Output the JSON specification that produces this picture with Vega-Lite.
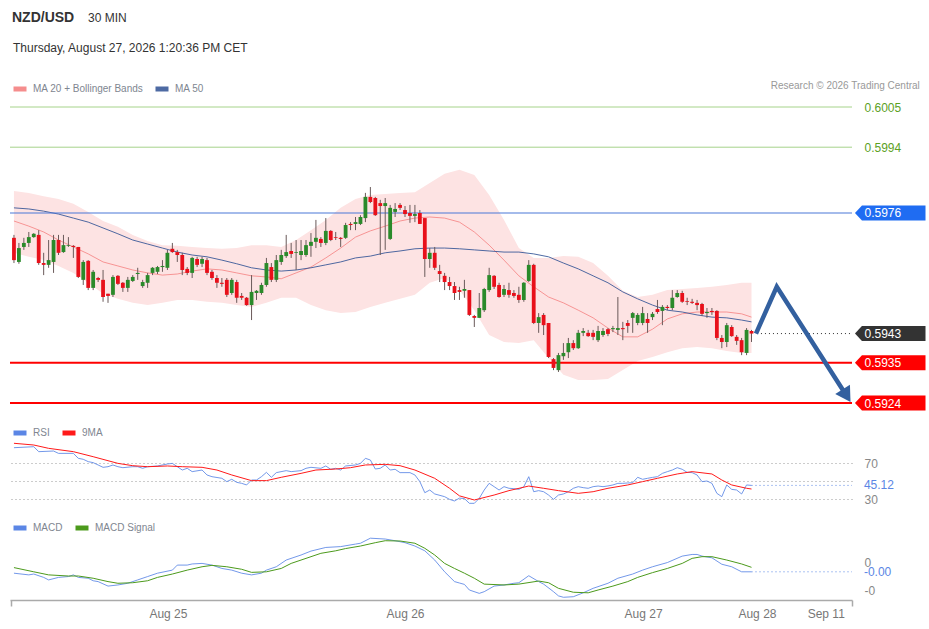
{
  "$schema": "https://vega.github.io/schema/vega-lite/v6.json",
  "width": 842,
  "height": 505,
  "autosize": {"type": "none"},
  "padding": {"left": 10, "top": 95, "right": 77, "bottom": 29},
  "background": "white",
  "config": {"view": {"stroke": null}, "font": "Liberation Sans"},
  "datasets": {
    "bars": [
      {"i":0,"open":0.59692,"high":0.59700,"low":0.59623,"close":0.59631},
      {"i":1,"open":0.59626,"high":0.59678,"low":0.59621,"close":0.59664},
      {"i":2,"open":0.59667,"high":0.59692,"low":0.59659,"close":0.59678},
      {"i":3,"open":0.59678,"high":0.59708,"low":0.59667,"close":0.59694},
      {"i":4,"open":0.59694,"high":0.59705,"low":0.59692,"close":0.59703},
      {"i":5,"open":0.59700,"high":0.59713,"low":0.59618,"close":0.59623},
      {"i":6,"open":0.59623,"high":0.59651,"low":0.59590,"close":0.59618},
      {"i":7,"open":0.59618,"high":0.59686,"low":0.59610,"close":0.59631},
      {"i":8,"open":0.59626,"high":0.59700,"low":0.59596,"close":0.59686},
      {"i":9,"open":0.59686,"high":0.59700,"low":0.59645,"close":0.59651},
      {"i":10,"open":0.59653,"high":0.59700,"low":0.59651,"close":0.59672},
      {"i":11,"open":0.59670,"high":0.59694,"low":0.59667,"close":0.59672},
      {"i":12,"open":0.59670,"high":0.59672,"low":0.59637,"close":0.59667},
      {"i":13,"open":0.59667,"high":0.59667,"low":0.59582,"close":0.59585},
      {"i":14,"open":0.59577,"high":0.59631,"low":0.59563,"close":0.59626},
      {"i":15,"open":0.59629,"high":0.59631,"low":0.59549,"close":0.59555},
      {"i":16,"open":0.59555,"high":0.59604,"low":0.59549,"close":0.59599},
      {"i":17,"open":0.59582,"high":0.59585,"low":0.59571,"close":0.59577},
      {"i":18,"open":0.59577,"high":0.59604,"low":0.59517,"close":0.59530},
      {"i":19,"open":0.59539,"high":0.59539,"low":0.59514,"close":0.59533},
      {"i":20,"open":0.59536,"high":0.59590,"low":0.59530,"close":0.59585},
      {"i":21,"open":0.59588,"high":0.59590,"low":0.59563,"close":0.59566},
      {"i":22,"open":0.59569,"high":0.59571,"low":0.59544,"close":0.59555},
      {"i":23,"open":0.59555,"high":0.59585,"low":0.59544,"close":0.59577},
      {"i":24,"open":0.59574,"high":0.59590,"low":0.59571,"close":0.59585},
      {"i":25,"open":0.59593,"high":0.59610,"low":0.59577,"close":0.59596},
      {"i":26,"open":0.59560,"high":0.59577,"low":0.59555,"close":0.59571},
      {"i":27,"open":0.59569,"high":0.59596,"low":0.59555,"close":0.59590},
      {"i":28,"open":0.59596,"high":0.59612,"low":0.59590,"close":0.59610},
      {"i":29,"open":0.59599,"high":0.59615,"low":0.59593,"close":0.59612},
      {"i":30,"open":0.59612,"high":0.59631,"low":0.59599,"close":0.59615},
      {"i":31,"open":0.59610,"high":0.59659,"low":0.59604,"close":0.59651},
      {"i":32,"open":0.59662,"high":0.59678,"low":0.59651,"close":0.59653},
      {"i":33,"open":0.59653,"high":0.59659,"low":0.59626,"close":0.59645},
      {"i":34,"open":0.59645,"high":0.59651,"low":0.59590,"close":0.59604},
      {"i":35,"open":0.59607,"high":0.59612,"low":0.59590,"close":0.59596},
      {"i":36,"open":0.59596,"high":0.59640,"low":0.59582,"close":0.59637},
      {"i":37,"open":0.59634,"high":0.59640,"low":0.59612,"close":0.59618},
      {"i":38,"open":0.59621,"high":0.59640,"low":0.59612,"close":0.59634},
      {"i":39,"open":0.59631,"high":0.59637,"low":0.59590,"close":0.59596},
      {"i":40,"open":0.59599,"high":0.59604,"low":0.59577,"close":0.59582},
      {"i":41,"open":0.59582,"high":0.59590,"low":0.59555,"close":0.59569},
      {"i":42,"open":0.59569,"high":0.59582,"low":0.59558,"close":0.59566},
      {"i":43,"open":0.59577,"high":0.59582,"low":0.59530,"close":0.59536},
      {"i":44,"open":0.59541,"high":0.59582,"low":0.59536,"close":0.59577},
      {"i":45,"open":0.59571,"high":0.59577,"low":0.59514,"close":0.59528},
      {"i":46,"open":0.59533,"high":0.59541,"low":0.59522,"close":0.59528},
      {"i":47,"open":0.59528,"high":0.59530,"low":0.59506,"close":0.59508},
      {"i":48,"open":0.59508,"high":0.59590,"low":0.59467,"close":0.59544},
      {"i":49,"open":0.59541,"high":0.59549,"low":0.59522,"close":0.59547},
      {"i":50,"open":0.59541,"high":0.59569,"low":0.59536,"close":0.59563},
      {"i":51,"open":0.59563,"high":0.59637,"low":0.59558,"close":0.59623},
      {"i":52,"open":0.59612,"high":0.59623,"low":0.59571,"close":0.59577},
      {"i":53,"open":0.59577,"high":0.59645,"low":0.59571,"close":0.59631},
      {"i":54,"open":0.59626,"high":0.59659,"low":0.59618,"close":0.59645},
      {"i":55,"open":0.59642,"high":0.59700,"low":0.59637,"close":0.59653},
      {"i":56,"open":0.59656,"high":0.59678,"low":0.59637,"close":0.59648},
      {"i":57,"open":0.59651,"high":0.59686,"low":0.59604,"close":0.59653},
      {"i":58,"open":0.59645,"high":0.59686,"low":0.59631,"close":0.59656},
      {"i":59,"open":0.59645,"high":0.59686,"low":0.59640,"close":0.59672},
      {"i":60,"open":0.59670,"high":0.59705,"low":0.59640,"close":0.59681},
      {"i":61,"open":0.59681,"high":0.59741,"low":0.59664,"close":0.59692},
      {"i":62,"open":0.59689,"high":0.59694,"low":0.59667,"close":0.59678},
      {"i":63,"open":0.59678,"high":0.59746,"low":0.59672,"close":0.59711},
      {"i":64,"open":0.59711,"high":0.59713,"low":0.59683,"close":0.59686},
      {"i":65,"open":0.59694,"high":0.59708,"low":0.59686,"close":0.59692},
      {"i":66,"open":0.59692,"high":0.59694,"low":0.59667,"close":0.59689},
      {"i":67,"open":0.59692,"high":0.59733,"low":0.59689,"close":0.59727},
      {"i":68,"open":0.59730,"high":0.59735,"low":0.59713,"close":0.59727},
      {"i":69,"open":0.59730,"high":0.59749,"low":0.59713,"close":0.59735},
      {"i":70,"open":0.59730,"high":0.59754,"low":0.59727,"close":0.59749},
      {"i":71,"open":0.59746,"high":0.59815,"low":0.59735,"close":0.59804},
      {"i":72,"open":0.59804,"high":0.59831,"low":0.59787,"close":0.59790},
      {"i":73,"open":0.59801,"high":0.59804,"low":0.59752,"close":0.59754},
      {"i":74,"open":0.59787,"high":0.59796,"low":0.59645,"close":0.59779},
      {"i":75,"open":0.59779,"high":0.59801,"low":0.59659,"close":0.59787},
      {"i":76,"open":0.59689,"high":0.59782,"low":0.59686,"close":0.59774},
      {"i":77,"open":0.59763,"high":0.59787,"low":0.59749,"close":0.59771},
      {"i":78,"open":0.59782,"high":0.59787,"low":0.59768,"close":0.59774},
      {"i":79,"open":0.59768,"high":0.59779,"low":0.59749,"close":0.59757},
      {"i":80,"open":0.59760,"high":0.59782,"low":0.59733,"close":0.59752},
      {"i":81,"open":0.59752,"high":0.59782,"low":0.59735,"close":0.59757},
      {"i":82,"open":0.59760,"high":0.59768,"low":0.59730,"close":0.59730},
      {"i":83,"open":0.59746,"high":0.59746,"low":0.59585,"close":0.59634},
      {"i":84,"open":0.59634,"high":0.59664,"low":0.59610,"close":0.59651},
      {"i":85,"open":0.59651,"high":0.59667,"low":0.59604,"close":0.59610},
      {"i":86,"open":0.59601,"high":0.59618,"low":0.59571,"close":0.59593},
      {"i":87,"open":0.59588,"high":0.59596,"low":0.59549,"close":0.59571},
      {"i":88,"open":0.59571,"high":0.59585,"low":0.59549,"close":0.59560},
      {"i":89,"open":0.59560,"high":0.59571,"low":0.59522,"close":0.59541},
      {"i":90,"open":0.59549,"high":0.59558,"low":0.59522,"close":0.59544},
      {"i":91,"open":0.59547,"high":0.59577,"low":0.59528,"close":0.59552},
      {"i":92,"open":0.59549,"high":0.59549,"low":0.59478,"close":0.59481},
      {"i":93,"open":0.59478,"high":0.59481,"low":0.59448,"close":0.59473},
      {"i":94,"open":0.59473,"high":0.59541,"low":0.59473,"close":0.59500},
      {"i":95,"open":0.59494,"high":0.59555,"low":0.59489,"close":0.59552},
      {"i":96,"open":0.59549,"high":0.59610,"low":0.59544,"close":0.59590},
      {"i":97,"open":0.59588,"high":0.59590,"low":0.59552,"close":0.59558},
      {"i":98,"open":0.59563,"high":0.59569,"low":0.59528,"close":0.59530},
      {"i":99,"open":0.59536,"high":0.59563,"low":0.59530,"close":0.59552},
      {"i":100,"open":0.59549,"high":0.59569,"low":0.59528,"close":0.59536},
      {"i":101,"open":0.59541,"high":0.59549,"low":0.59528,"close":0.59533},
      {"i":102,"open":0.59536,"high":0.59558,"low":0.59514,"close":0.59522},
      {"i":103,"open":0.59522,"high":0.59571,"low":0.59517,"close":0.59569},
      {"i":104,"open":0.59574,"high":0.59631,"low":0.59571,"close":0.59618},
      {"i":105,"open":0.59618,"high":0.59621,"low":0.59456,"close":0.59459},
      {"i":106,"open":0.59459,"high":0.59486,"low":0.59432,"close":0.59475},
      {"i":107,"open":0.59481,"high":0.59486,"low":0.59426,"close":0.59453},
      {"i":108,"open":0.59459,"high":0.59459,"low":0.59363,"close":0.59366},
      {"i":109,"open":0.59360,"high":0.59363,"low":0.59330,"close":0.59336},
      {"i":110,"open":0.59330,"high":0.59377,"low":0.59325,"close":0.59371},
      {"i":111,"open":0.59368,"high":0.59404,"low":0.59358,"close":0.59377},
      {"i":112,"open":0.59379,"high":0.59418,"low":0.59363,"close":0.59404},
      {"i":113,"open":0.59404,"high":0.59412,"low":0.59385,"close":0.59390},
      {"i":114,"open":0.59390,"high":0.59440,"low":0.59388,"close":0.59432},
      {"i":115,"open":0.59432,"high":0.59445,"low":0.59423,"close":0.59437},
      {"i":116,"open":0.59432,"high":0.59440,"low":0.59421,"close":0.59423},
      {"i":117,"open":0.59432,"high":0.59440,"low":0.59412,"close":0.59421},
      {"i":118,"open":0.59412,"high":0.59451,"low":0.59407,"close":0.59437},
      {"i":119,"open":0.59426,"high":0.59445,"low":0.59421,"close":0.59437},
      {"i":120,"open":0.59442,"high":0.59445,"low":0.59423,"close":0.59429},
      {"i":121,"open":0.59442,"high":0.59451,"low":0.59434,"close":0.59445},
      {"i":122,"open":0.59440,"high":0.59530,"low":0.59426,"close":0.59445},
      {"i":123,"open":0.59445,"high":0.59462,"low":0.59412,"close":0.59442},
      {"i":124,"open":0.59459,"high":0.59467,"low":0.59432,"close":0.59451},
      {"i":125,"open":0.59473,"high":0.59489,"low":0.59432,"close":0.59486},
      {"i":126,"open":0.59459,"high":0.59486,"low":0.59453,"close":0.59481},
      {"i":127,"open":0.59459,"high":0.59503,"low":0.59453,"close":0.59486},
      {"i":128,"open":0.59470,"high":0.59486,"low":0.59432,"close":0.59459},
      {"i":129,"open":0.59475,"high":0.59489,"low":0.59467,"close":0.59484},
      {"i":130,"open":0.59497,"high":0.59522,"low":0.59484,"close":0.59489},
      {"i":131,"open":0.59492,"high":0.59508,"low":0.59453,"close":0.59503},
      {"i":132,"open":0.59503,"high":0.59508,"low":0.59494,"close":0.59500},
      {"i":133,"open":0.59500,"high":0.59549,"low":0.59494,"close":0.59528},
      {"i":134,"open":0.59530,"high":0.59549,"low":0.59528,"close":0.59541},
      {"i":135,"open":0.59541,"high":0.59547,"low":0.59514,"close":0.59517},
      {"i":136,"open":0.59519,"high":0.59528,"low":0.59508,"close":0.59517},
      {"i":137,"open":0.59517,"high":0.59525,"low":0.59511,"close":0.59514},
      {"i":138,"open":0.59514,"high":0.59522,"low":0.59494,"close":0.59508},
      {"i":139,"open":0.59511,"high":0.59514,"low":0.59478,"close":0.59484},
      {"i":140,"open":0.59486,"high":0.59500,"low":0.59473,"close":0.59489},
      {"i":141,"open":0.59492,"high":0.59500,"low":0.59481,"close":0.59489},
      {"i":142,"open":0.59492,"high":0.59494,"low":0.59412,"close":0.59418},
      {"i":143,"open":0.59418,"high":0.59426,"low":0.59390,"close":0.59407},
      {"i":144,"open":0.59407,"high":0.59459,"low":0.59393,"close":0.59453},
      {"i":145,"open":0.59448,"high":0.59453,"low":0.59421,"close":0.59423},
      {"i":146,"open":0.59421,"high":0.59426,"low":0.59399,"close":0.59410},
      {"i":147,"open":0.59412,"high":0.59418,"low":0.59371,"close":0.59379},
      {"i":148,"open":0.59377,"high":0.59445,"low":0.59371,"close":0.59440},
      {"i":149,"open":0.59437,"high":0.59440,"low":0.59407,"close":0.59430}
    ],
    "bb": [
      {"i":0,"upper":0.59820,"lower":0.59651,"ma20":0.59738,"ma50":0.59774},
      {"i":3,"upper":0.59815,"lower":0.59640,"ma20":0.59724,"ma50":0.59771},
      {"i":6,"upper":0.59806,"lower":0.59631,"ma20":0.59708,"ma50":0.59765},
      {"i":9,"upper":0.59798,"lower":0.59615,"ma20":0.59686,"ma50":0.59757},
      {"i":12,"upper":0.59785,"lower":0.59596,"ma20":0.59667,"ma50":0.59746},
      {"i":15,"upper":0.59763,"lower":0.59569,"ma20":0.59648,"ma50":0.59735},
      {"i":18,"upper":0.59738,"lower":0.59539,"ma20":0.59626,"ma50":0.59719},
      {"i":21,"upper":0.59722,"lower":0.59525,"ma20":0.59615,"ma50":0.59703},
      {"i":24,"upper":0.59700,"lower":0.59514,"ma20":0.59604,"ma50":0.59686},
      {"i":27,"upper":0.59683,"lower":0.59508,"ma20":0.59596,"ma50":0.59675},
      {"i":30,"upper":0.59672,"lower":0.59514,"ma20":0.59590,"ma50":0.59664},
      {"i":33,"upper":0.59670,"lower":0.59522,"ma20":0.59593,"ma50":0.59653},
      {"i":36,"upper":0.59667,"lower":0.59522,"ma20":0.59601,"ma50":0.59645},
      {"i":39,"upper":0.59664,"lower":0.59517,"ma20":0.59607,"ma50":0.59640},
      {"i":42,"upper":0.59662,"lower":0.59514,"ma20":0.59604,"ma50":0.59631},
      {"i":45,"upper":0.59664,"lower":0.59508,"ma20":0.59596,"ma50":0.59621},
      {"i":48,"upper":0.59672,"lower":0.59503,"ma20":0.59588,"ma50":0.59610},
      {"i":51,"upper":0.59672,"lower":0.59514,"ma20":0.59585,"ma50":0.59604},
      {"i":54,"upper":0.59667,"lower":0.59528,"ma20":0.59580,"ma50":0.59601},
      {"i":57,"upper":0.59686,"lower":0.59528,"ma20":0.59596,"ma50":0.59604},
      {"i":60,"upper":0.59713,"lower":0.59508,"ma20":0.59612,"ma50":0.59610},
      {"i":63,"upper":0.59741,"lower":0.59494,"ma20":0.59637,"ma50":0.59618},
      {"i":66,"upper":0.59774,"lower":0.59486,"ma20":0.59664,"ma50":0.59626},
      {"i":69,"upper":0.59798,"lower":0.59489,"ma20":0.59694,"ma50":0.59637},
      {"i":72,"upper":0.59809,"lower":0.59503,"ma20":0.59711,"ma50":0.59642},
      {"i":75,"upper":0.59812,"lower":0.59514,"ma20":0.59724,"ma50":0.59651},
      {"i":78,"upper":0.59815,"lower":0.59525,"ma20":0.59738,"ma50":0.59656},
      {"i":81,"upper":0.59817,"lower":0.59536,"ma20":0.59746,"ma50":0.59662},
      {"i":84,"upper":0.59842,"lower":0.59569,"ma20":0.59749,"ma50":0.59664},
      {"i":87,"upper":0.59867,"lower":0.59582,"ma20":0.59746,"ma50":0.59664},
      {"i":90,"upper":0.59878,"lower":0.59549,"ma20":0.59735,"ma50":0.59662},
      {"i":93,"upper":0.59864,"lower":0.59494,"ma20":0.59708,"ma50":0.59659},
      {"i":96,"upper":0.59809,"lower":0.59426,"ma20":0.59672,"ma50":0.59656},
      {"i":99,"upper":0.59741,"lower":0.59407,"ma20":0.59631,"ma50":0.59653},
      {"i":102,"upper":0.59664,"lower":0.59404,"ma20":0.59588,"ma50":0.59653},
      {"i":105,"upper":0.59637,"lower":0.59412,"ma20":0.59558,"ma50":0.59648},
      {"i":108,"upper":0.59637,"lower":0.59363,"ma20":0.59530,"ma50":0.59640},
      {"i":111,"upper":0.59642,"lower":0.59317,"ma20":0.59514,"ma50":0.59623},
      {"i":114,"upper":0.59640,"lower":0.59303,"ma20":0.59494,"ma50":0.59607},
      {"i":117,"upper":0.59623,"lower":0.59303,"ma20":0.59473,"ma50":0.59588},
      {"i":120,"upper":0.59588,"lower":0.59306,"ma20":0.59445,"ma50":0.59569},
      {"i":123,"upper":0.59547,"lower":0.59330,"ma20":0.59421,"ma50":0.59544},
      {"i":126,"upper":0.59530,"lower":0.59355,"ma20":0.59421,"ma50":0.59525},
      {"i":129,"upper":0.59536,"lower":0.59366,"ma20":0.59442,"ma50":0.59508},
      {"i":132,"upper":0.59549,"lower":0.59379,"ma20":0.59470,"ma50":0.59494},
      {"i":135,"upper":0.59552,"lower":0.59390,"ma20":0.59484,"ma50":0.59489},
      {"i":138,"upper":0.59555,"lower":0.59393,"ma20":0.59489,"ma50":0.59481},
      {"i":141,"upper":0.59558,"lower":0.59390,"ma20":0.59489,"ma50":0.59475},
      {"i":144,"upper":0.59563,"lower":0.59382,"ma20":0.59489,"ma50":0.59473},
      {"i":147,"upper":0.59569,"lower":0.59377,"ma20":0.59484,"ma50":0.59467},
      {"i":149,"upper":0.59569,"lower":0.59377,"ma20":0.59475,"ma50":0.59462}
    ],
    "levels": [
      {"level":0.6005,"kind":"target"},
      {"level":0.5994,"kind":"target"},
      {"level":0.5976,"kind":"resistance"},
      {"level":0.5943,"kind":"last"},
      {"level":0.5935,"kind":"support"},
      {"level":0.5924,"kind":"support"}
    ],
    "forecast": [
      {"i":149.9,"price":0.5943},
      {"i":154.1,"price":0.59558},
      {"i":168.2,"price":0.5926}
    ],
    "rsi": [
      {"i":0,"rsi":87.0},{"i":4,"rsi":88.1},{"i":5,"rsi":82.6},{"i":8,"rsi":83.3},{"i":9,"rsi":80.7},
      {"i":12,"rsi":80.7},{"i":13,"rsi":75.2},{"i":14,"rsi":74.1},{"i":15,"rsi":71.5},{"i":16,"rsi":70.4},
      {"i":17,"rsi":67.8},{"i":18,"rsi":65.2},{"i":19,"rsi":65.9},{"i":20,"rsi":67.8},{"i":21,"rsi":65.9},
      {"i":22,"rsi":64.8},{"i":24,"rsi":65.9},{"i":25,"rsi":65.9},{"i":26,"rsi":64.1},{"i":27,"rsi":65.9},
      {"i":29,"rsi":66.7},{"i":31,"rsi":68.9},{"i":32,"rsi":69.6},{"i":33,"rsi":65.9},{"i":34,"rsi":62.2},
      {"i":35,"rsi":64.1},{"i":36,"rsi":60.4},{"i":38,"rsi":62.2},{"i":39,"rsi":56.7},{"i":40,"rsi":54.8},
      {"i":42,"rsi":53.0},{"i":43,"rsi":49.3},{"i":44,"rsi":51.9},{"i":45,"rsi":48.5},{"i":46,"rsi":47.4},
      {"i":47,"rsi":45.6},{"i":48,"rsi":51.1},{"i":49,"rsi":51.1},{"i":50,"rsi":54.8},{"i":51,"rsi":59.6},
      {"i":52,"rsi":54.1},{"i":53,"rsi":59.3},{"i":55,"rsi":61.5},{"i":56,"rsi":60.4},{"i":58,"rsi":61.5},
      {"i":59,"rsi":64.1},{"i":60,"rsi":65.2},{"i":62,"rsi":64.1},{"i":63,"rsi":66.7},{"i":64,"rsi":63.0},
      {"i":65,"rsi":64.1},{"i":66,"rsi":62.2},{"i":67,"rsi":66.7},{"i":69,"rsi":67.8},{"i":70,"rsi":69.6},
      {"i":71,"rsi":75.2},{"i":72,"rsi":73.3},{"i":73,"rsi":63.3},{"i":74,"rsi":64.1},{"i":75,"rsi":67.8},
      {"i":76,"rsi":62.2},{"i":77,"rsi":63.0},{"i":78,"rsi":59.3},{"i":80,"rsi":59.3},{"i":81,"rsi":56.7},
      {"i":82,"rsi":49.3},{"i":83,"rsi":37.0},{"i":84,"rsi":40.0},{"i":85,"rsi":35.6},{"i":87,"rsi":32.6},
      {"i":88,"rsi":29.6},{"i":89,"rsi":27.8},{"i":90,"rsi":31.0},{"i":91,"rsi":30.5},{"i":92,"rsi":25.2},
      {"i":93,"rsi":25.2},{"i":94,"rsi":30.7},{"i":95,"rsi":40.0},{"i":96,"rsi":47.4},{"i":97,"rsi":43.7},
      {"i":98,"rsi":40.0},{"i":99,"rsi":43.7},{"i":100,"rsi":41.9},{"i":101,"rsi":41.5},{"i":102,"rsi":40.7},
      {"i":103,"rsi":43.7},{"i":104,"rsi":54.8},{"i":105,"rsi":38.1},{"i":106,"rsi":39.3},{"i":107,"rsi":38.1},
      {"i":108,"rsi":34.4},{"i":109,"rsi":29.6},{"i":110,"rsi":34.4},{"i":111,"rsi":35.6},{"i":112,"rsi":38.1},
      {"i":113,"rsi":41.9},{"i":114,"rsi":43.7},{"i":115,"rsi":42.6},{"i":116,"rsi":41.9},{"i":117,"rsi":43.7},
      {"i":118,"rsi":44.4},{"i":119,"rsi":43.7},{"i":120,"rsi":44.5},{"i":121,"rsi":45.6},{"i":122,"rsi":47.4},
      {"i":123,"rsi":47.4},{"i":124,"rsi":47.8},{"i":125,"rsi":48.1},{"i":126,"rsi":54.1},{"i":127,"rsi":51.9},
      {"i":128,"rsi":53.0},{"i":129,"rsi":54.0},{"i":130,"rsi":54.8},{"i":131,"rsi":58.5},{"i":132,"rsi":60.4},
      {"i":133,"rsi":62.2},{"i":134,"rsi":64.8},{"i":135,"rsi":63.0},{"i":136,"rsi":59.6},{"i":137,"rsi":59.3},
      {"i":138,"rsi":56.7},{"i":139,"rsi":49.3},{"i":140,"rsi":50.0},{"i":141,"rsi":47.4},{"i":142,"rsi":36.3},
      {"i":143,"rsi":32.6},{"i":144,"rsi":45.6},{"i":145,"rsi":40.7},{"i":146,"rsi":40.0},{"i":147,"rsi":35.6},
      {"i":148,"rsi":45.6},{"i":149,"rsi":45.12}
    ],
    "rsima": [
      {"i":0,"ma":91.9},{"i":4,"ma":90.0},{"i":7,"ma":86.3},{"i":12,"ma":82.6},{"i":16,"ma":77.0},
      {"i":21,"ma":69.6},{"i":24,"ma":67.0},{"i":27,"ma":65.9},{"i":31,"ma":66.7},{"i":34,"ma":65.9},
      {"i":38,"ma":65.2},{"i":41,"ma":62.2},{"i":44,"ma":56.7},{"i":48,"ma":50.4},{"i":51,"ma":50.4},
      {"i":54,"ma":54.1},{"i":58,"ma":58.5},{"i":61,"ma":62.2},{"i":65,"ma":63.3},{"i":68,"ma":64.8},
      {"i":71,"ma":67.8},{"i":75,"ma":68.5},{"i":78,"ma":67.0},{"i":81,"ma":62.2},{"i":85,"ma":53.0},
      {"i":88,"ma":41.9},{"i":90,"ma":33.5},{"i":93,"ma":28.9},{"i":97,"ma":34.4},{"i":100,"ma":39.3},
      {"i":104,"ma":44.4},{"i":107,"ma":41.9},{"i":110,"ma":39.3},{"i":114,"ma":36.3},{"i":117,"ma":38.1},
      {"i":120,"ma":41.9},{"i":124,"ma":45.6},{"i":127,"ma":49.3},{"i":130,"ma":53.0},{"i":134,"ma":57.8},
      {"i":137,"ma":60.4},{"i":141,"ma":57.8},{"i":143,"ma":51.1},{"i":145,"ma":45.6},{"i":148,"ma":41.9},
      {"i":149,"ma":41.1}
    ],
    "macd": [
      {"i":0,"macd":-0.00020},{"i":3,"macd":-0.00026},{"i":4,"macd":-0.00023},{"i":6,"macd":-0.00035},
      {"i":7,"macd":-0.00044},{"i":9,"macd":-0.00035},{"i":11,"macd":-0.00032},{"i":12,"macd":-0.00026},
      {"i":13,"macd":-0.00035},{"i":15,"macd":-0.00038},{"i":16,"macd":-0.00047},{"i":17,"macd":-0.00050},
      {"i":19,"macd":-0.00066},{"i":21,"macd":-0.00062},{"i":23,"macd":-0.00056},{"i":25,"macd":-0.00044},
      {"i":27,"macd":-0.00032},{"i":29,"macd":-0.00020},{"i":32,"macd":-0.00009},{"i":33,"macd":0.00009},
      {"i":35,"macd":0.00009},{"i":36,"macd":0.00013},{"i":38,"macd":0.00015},{"i":40,"macd":0.00009},
      {"i":42,"macd":-0.00003},{"i":44,"macd":-0.00009},{"i":46,"macd":-0.00020},{"i":48,"macd":-0.00026},
      {"i":50,"macd":-0.00020},{"i":51,"macd":-0.00009},{"i":53,"macd":0.00003},{"i":55,"macd":0.00027},
      {"i":58,"macd":0.00045},{"i":60,"macd":0.00059},{"i":63,"macd":0.00072},{"i":66,"macd":0.00075},
      {"i":69,"macd":0.00084},{"i":70,"macd":0.00087},{"i":72,"macd":0.00105},{"i":75,"macd":0.00102},
      {"i":77,"macd":0.00096},{"i":79,"macd":0.00089},{"i":81,"macd":0.00077},{"i":83,"macd":0.00060},
      {"i":85,"macd":0.00027},{"i":87,"macd":-0.00015},{"i":89,"macd":-0.00050},{"i":90,"macd":-0.00055},
      {"i":91,"macd":-0.00060},{"i":92,"macd":-0.00080},{"i":94,"macd":-0.00092},{"i":95,"macd":-0.00086},
      {"i":97,"macd":-0.00066},{"i":99,"macd":-0.00062},{"i":101,"macd":-0.00056},{"i":102,"macd":-0.00054},
      {"i":104,"macd":-0.00029},{"i":106,"macd":-0.00050},{"i":107,"macd":-0.00059},{"i":109,"macd":-0.00086},
      {"i":110,"macd":-0.00101},{"i":111,"macd":-0.00106},{"i":113,"macd":-0.00104},{"i":115,"macd":-0.00090},
      {"i":117,"macd":-0.00074},{"i":120,"macd":-0.00056},{"i":122,"macd":-0.00038},{"i":125,"macd":-0.00023},
      {"i":127,"macd":-0.00009},{"i":129,"macd":0.00003},{"i":132,"macd":0.00018},{"i":135,"macd":0.00041},
      {"i":137,"macd":0.00047},{"i":138,"macd":0.00047},{"i":139,"macd":0.00041},{"i":141,"macd":0.00035},
      {"i":143,"macd":0.00012},{"i":145,"macd":0.00003},{"i":147,"macd":-0.00015},{"i":149,"macd":-0.00015}
    ],
    "signal": [
      {"i":0,"signal":0.00000},{"i":4,"signal":-0.00015},{"i":7,"signal":-0.00026},{"i":11,"signal":-0.00030},
      {"i":13,"signal":-0.00030},{"i":16,"signal":-0.00038},{"i":19,"signal":-0.00050},{"i":21,"signal":-0.00056},
      {"i":24,"signal":-0.00054},{"i":27,"signal":-0.00047},{"i":29,"signal":-0.00035},{"i":32,"signal":-0.00023},
      {"i":35,"signal":-0.00009},{"i":38,"signal":0.00003},{"i":40,"signal":0.00008},{"i":43,"signal":0.00003},
      {"i":46,"signal":-0.00006},{"i":48,"signal":-0.00017},{"i":51,"signal":-0.00015},{"i":54,"signal":-0.00003},
      {"i":56,"signal":0.00015},{"i":59,"signal":0.00033},{"i":62,"signal":0.00051},{"i":65,"signal":0.00060},
      {"i":67,"signal":0.00068},{"i":70,"signal":0.00077},{"i":73,"signal":0.00089},{"i":75,"signal":0.00096},
      {"i":78,"signal":0.00095},{"i":81,"signal":0.00087},{"i":83,"signal":0.00069},{"i":85,"signal":0.00045},
      {"i":87,"signal":0.00015},{"i":89,"signal":-0.00003},{"i":91,"signal":-0.00020},{"i":93,"signal":-0.00038},
      {"i":95,"signal":-0.00059},{"i":99,"signal":-0.00062},{"i":102,"signal":-0.00059},{"i":106,"signal":-0.00048},
      {"i":108,"signal":-0.00054},{"i":110,"signal":-0.00074},{"i":113,"signal":-0.00088},{"i":116,"signal":-0.00090},
      {"i":118,"signal":-0.00080},{"i":121,"signal":-0.00066},{"i":124,"signal":-0.00050},{"i":126,"signal":-0.00035},
      {"i":129,"signal":-0.00018},{"i":132,"signal":-0.00003},{"i":135,"signal":0.00015},{"i":137,"signal":0.00033},
      {"i":139,"signal":0.00039},{"i":141,"signal":0.00039},{"i":144,"signal":0.00027},{"i":147,"signal":0.00013},
      {"i":149,"signal":0.00001}
    ]
  },
  "layer": [
    {
      "layer": [
        {
          "data": {"name": "bb"},
          "mark": {"type": "area", "color": "#fde3e3"},
          "encoding": {
            "x": {
              "field": "i", "type": "quantitative", "title": null,
              "scale": {"domain": [-0.8, 169.3], "nice": false, "zero": false, "padding": 0},
              "axis": {
                "values": [-0.6, 31.1, 79, 127.1, 150.1, 164, 169.2],
                "labelExpr": "datum.value < 20 ? '' : datum.value < 40 ? 'Aug 25' : datum.value < 100 ? 'Aug 26' : datum.value < 140 ? 'Aug 27' : datum.value < 160 ? 'Aug 28' : datum.value < 168 ? 'Sep 11' : ''",
                "grid": false,
                "domainColor": "#aaaaaa",
                "domainWidth": 1.5,
                "tickColor": "#aaaaaa",
                "tickWidth": 1.5,
                "tickSize": 6,
                "tickOpacity": {"condition": {"test": "datum.value < 0 || datum.value > 169", "value": 1}, "value": 0},
                "labelColor": "#777777",
                "labelFontSize": 12,
                "labelPadding": 2,
                "labelFlush": false,
                "labelOverlap": false
              }
            },
            "y": {
              "field": "upper", "type": "quantitative", "title": null,
              "scale": {"domain": [0.5924, 0.6005], "range": [308, 12], "nice": false, "zero": false},
              "axis": {
                "orient": "right",
                "values": [0.6005, 0.5994, 0.5976, 0.5943, 0.5935, 0.5924],
                "format": ".4f",
                "ticks": false,
                "domain": false,
                "grid": false,
                "labelPadding": 12,
                "labelFontSize": 12,
                "labelOverlap": false,
                "labelColor": {"condition": {"test": "datum.value > 0.5985", "value": "#5da11f"}, "value": "#ffffff"},
                "zindex": 1
              }
            },
            "y2": {"field": "lower"}
          }
        },
        {
          "data": {"name": "bb"},
          "mark": {"type": "line", "strokeWidth": 1, "opacity": 0.75},
          "encoding": {
            "x": {"field": "i", "type": "quantitative", "title": null, "scale": {"domain": [-0.8, 169.3], "nice": false, "zero": false, "padding": 0}},
            "y": {"field": "ma20", "type": "quantitative", "title": null, "scale": {"domain": [0.5924, 0.6005], "range": [308, 12], "nice": false, "zero": false}},
            "color": {
              "datum": "MA 20 + Bollinger Bands", "type": "nominal",
              "scale": {"domain": ["MA 20 + Bollinger Bands", "MA 50"], "range": ["#f47a7a", "#2f5194"]},
              "legend": {
                "orient": "none", "legendX": 1, "legendY": -15, "direction": "horizontal", "title": null,
                "symbolType": "stroke", "symbolStrokeWidth": 5, "symbolSize": 169, "symbolOpacity": 1,
                "labelFontSize": 10, "labelColor": "#808690", "labelOffset": 4, "columnPadding": 1
              }
            }
          }
        },
        {
          "data": {"name": "bb"},
          "mark": {"type": "line", "strokeWidth": 1, "opacity": 0.85},
          "encoding": {
            "x": {"field": "i", "type": "quantitative", "title": null, "scale": {"domain": [-0.8, 169.3], "nice": false, "zero": false, "padding": 0}},
            "y": {"field": "ma50", "type": "quantitative", "title": null, "scale": {"domain": [0.5924, 0.6005], "range": [308, 12], "nice": false, "zero": false}},
            "color": {"datum": "MA 50", "type": "nominal"}
          }
        },
        {
          "data": {"name": "levels"},
          "transform": [{"filter": "datum.kind == 'target'"}],
          "mark": {"type": "rule", "color": "#a6d38a", "strokeWidth": 1},
          "encoding": {
            "y": {"field": "level", "type": "quantitative", "title": null, "scale": {"domain": [0.5924, 0.6005], "range": [308, 12], "nice": false, "zero": false}}
          }
        },
        {
          "data": {"name": "levels"},
          "transform": [{"filter": "datum.kind == 'resistance'"}],
          "mark": {"type": "rule", "color": "#4a78d8", "strokeWidth": 1.2},
          "encoding": {
            "y": {"field": "level", "type": "quantitative", "title": null, "scale": {"domain": [0.5924, 0.6005], "range": [308, 12], "nice": false, "zero": false}}
          }
        },
        {
          "data": {"name": "levels"},
          "transform": [{"filter": "datum.kind == 'support'"}],
          "mark": {"type": "rule", "color": "#ff0000", "strokeWidth": 2},
          "encoding": {
            "y": {"field": "level", "type": "quantitative", "title": null, "scale": {"domain": [0.5924, 0.6005], "range": [308, 12], "nice": false, "zero": false}}
          }
        },
        {
          "data": {"name": "levels"},
          "transform": [{"filter": "datum.kind == 'last'"}],
          "mark": {"type": "rule", "color": "#333333", "strokeWidth": 1, "strokeDash": [1, 3]},
          "encoding": {
            "x": {"datum": 150.1, "type": "quantitative", "scale": {"domain": [-0.8, 169.3], "nice": false, "zero": false, "padding": 0}},
            "x2": {"datum": 169.3},
            "y": {"field": "level", "type": "quantitative", "title": null, "scale": {"domain": [0.5924, 0.6005], "range": [308, 12], "nice": false, "zero": false}}
          }
        },
        {
          "data": {"name": "bars"},
          "mark": {"type": "rule", "color": "#6a5a5a", "strokeWidth": 1},
          "encoding": {
            "x": {"field": "i", "type": "quantitative", "title": null, "scale": {"domain": [-0.8, 169.3], "nice": false, "zero": false, "padding": 0}},
            "y": {"field": "low", "type": "quantitative", "title": null, "scale": {"domain": [0.5924, 0.6005], "range": [308, 12], "nice": false, "zero": false}},
            "y2": {"field": "high"}
          }
        },
        {
          "data": {"name": "bars"},
          "mark": {"type": "bar", "size": 3.8},
          "encoding": {
            "x": {"field": "i", "type": "quantitative", "title": null, "scale": {"domain": [-0.8, 169.3], "nice": false, "zero": false, "padding": 0}},
            "y": {"field": "open", "type": "quantitative", "title": null, "scale": {"domain": [0.5924, 0.6005], "range": [308, 12], "nice": false, "zero": false}},
            "y2": {"field": "close"},
            "color": {"condition": {"test": "datum.close >= datum.open", "value": "#2a8a2a"}, "value": "#e8101a"}
          }
        },
        {
          "data": {"name": "forecast"},
          "mark": {"type": "line", "color": "#33609f", "strokeWidth": 4.5, "strokeJoin": "miter", "strokeCap": "butt"},
          "encoding": {
            "x": {"field": "i", "type": "quantitative", "title": null, "scale": {"domain": [-0.8, 169.3], "nice": false, "zero": false, "padding": 0}},
            "y": {"field": "price", "type": "quantitative", "title": null, "scale": {"domain": [0.5924, 0.6005], "range": [308, 12], "nice": false, "zero": false}}
          }
        },
        {
          "data": {"name": "forecast"},
          "transform": [{"filter": "datum.i > 160"}],
          "mark": {"type": "point", "shape": "triangle-right", "angle": 58, "size": 300, "filled": true, "opacity": 1, "color": "#33609f"},
          "encoding": {
            "x": {"field": "i", "type": "quantitative", "title": null, "scale": {"domain": [-0.8, 169.3], "nice": false, "zero": false, "padding": 0}},
            "y": {"field": "price", "type": "quantitative", "title": null, "scale": {"domain": [0.5924, 0.6005], "range": [308, 12], "nice": false, "zero": false}}
          }
        },
        {
          "data": {"name": "levels"},
          "transform": [{"filter": "datum.kind != 'target'"}],
          "mark": {"type": "point", "shape": "M0,0L0.93,-1L9.4,-1L9.4,1L0.93,1Z", "size": 225, "filled": true, "opacity": 1, "strokeWidth": 0},
          "encoding": {
            "x": {"datum": 169.9, "type": "quantitative", "scale": {"domain": [-0.8, 169.3], "nice": false, "zero": false, "padding": 0}},
            "y": {"field": "level", "type": "quantitative", "title": null, "scale": {"domain": [0.5924, 0.6005], "range": [308, 12], "nice": false, "zero": false}},
            "color": {
              "condition": [
                {"test": "datum.kind == 'resistance'", "value": "#1f6cf2"},
                {"test": "datum.kind == 'last'", "value": "#333333"}
              ],
              "value": "#ff0000"
            }
          }
        },
        {
          "data": {"values": [{"label": "NZD/USD"}]},
          "mark": {"type": "text", "align": "left", "baseline": "middle", "fontSize": 14, "fontWeight": "bold", "color": "#333333"},
          "encoding": {
            "x": {"datum": -0.4, "type": "quantitative", "scale": {"domain": [-0.8, 169.3], "nice": false, "zero": false, "padding": 0}},
            "y": {"datum": 0.60294, "type": "quantitative", "scale": {"domain": [0.5924, 0.6005], "range": [308, 12], "nice": false, "zero": false}},
            "text": {"field": "label"}
          }
        },
        {
          "data": {"values": [{"label": "30 MIN"}]},
          "mark": {"type": "text", "align": "left", "baseline": "middle", "fontSize": 12, "color": "#333333"},
          "encoding": {
            "x": {"datum": 14.95, "type": "quantitative", "scale": {"domain": [-0.8, 169.3], "nice": false, "zero": false, "padding": 0}},
            "y": {"datum": 0.60294, "type": "quantitative", "scale": {"domain": [0.5924, 0.6005], "range": [308, 12], "nice": false, "zero": false}},
            "text": {"field": "label"}
          }
        },
        {
          "data": {"values": [{"label": "Thursday, August 27, 2026 1:20:36 PM CET"}]},
          "mark": {"type": "text", "align": "left", "baseline": "middle", "fontSize": 12, "color": "#333333"},
          "encoding": {
            "x": {"datum": -0.2, "type": "quantitative", "scale": {"domain": [-0.8, 169.3], "nice": false, "zero": false, "padding": 0}},
            "y": {"datum": 0.60211, "type": "quantitative", "scale": {"domain": [0.5924, 0.6005], "range": [308, 12], "nice": false, "zero": false}},
            "text": {"field": "label"}
          }
        },
        {
          "data": {"values": [{"label": "Research © 2026 Trading Central"}]},
          "mark": {"type": "text", "align": "right", "baseline": "middle", "fontSize": 10, "color": "#999999"},
          "encoding": {
            "x": {"datum": 183.0, "type": "quantitative", "scale": {"domain": [-0.8, 169.3], "nice": false, "zero": false, "padding": 0}},
            "y": {"datum": 0.60107, "type": "quantitative", "scale": {"domain": [0.5924, 0.6005], "range": [308, 12], "nice": false, "zero": false}},
            "text": {"field": "label"}
          }
        }
      ]
    },
    {
      "layer": [
        {
          "data": {"name": "rsi"},
          "mark": {"type": "line", "strokeWidth": 1, "opacity": 0.85},
          "encoding": {
            "x": {"field": "i", "type": "quantitative", "title": null, "scale": {"domain": [-0.8, 169.3], "nice": false, "zero": false, "padding": 0}},
            "y": {
              "field": "rsi", "type": "quantitative", "title": null,
              "scale": {"domain": [30, 70], "range": [404, 368], "nice": false, "zero": false},
              "axis": {
                "orient": "right", "values": [70, 50, 30],
                "labelExpr": "datum.value == 50 ? '' : datum.label",
                "ticks": false, "domain": false,
                "grid": true, "gridDash": [1, 3], "gridColor": "#999999",
                "labelPadding": 12, "labelFontSize": 12, "labelColor": "#888888"
              }
            },
            "color": {
              "datum": "RSI", "type": "nominal",
              "scale": {"domain": ["RSI", "9MA"], "range": ["#5b86e5", "#ff1a1a"]},
              "legend": {
                "orient": "none", "legendX": 1, "legendY": 329, "direction": "horizontal", "title": null,
                "symbolType": "stroke", "symbolStrokeWidth": 5, "symbolSize": 169, "symbolOpacity": 1,
                "labelFontSize": 10, "labelColor": "#808690", "labelOffset": 4, "columnPadding": 2
              }
            }
          }
        },
        {
          "data": {"name": "rsima"},
          "mark": {"type": "line", "strokeWidth": 1},
          "encoding": {
            "x": {"field": "i", "type": "quantitative", "title": null, "scale": {"domain": [-0.8, 169.3], "nice": false, "zero": false, "padding": 0}},
            "y": {"field": "ma", "type": "quantitative", "title": null, "scale": {"domain": [30, 70], "range": [404, 368], "nice": false, "zero": false}},
            "color": {"datum": "9MA", "type": "nominal"}
          }
        },
        {
          "data": {"name": "rsi"},
          "transform": [{"filter": "datum.i == 149"}],
          "mark": {"type": "rule", "color": "#5b86e5", "strokeWidth": 1, "strokeDash": [1, 3]},
          "encoding": {
            "x": {"field": "i", "type": "quantitative", "title": null, "scale": {"domain": [-0.8, 169.3], "nice": false, "zero": false, "padding": 0}},
            "x2": {"datum": 169.3},
            "y": {"field": "rsi", "type": "quantitative", "title": null, "scale": {"domain": [30, 70], "range": [404, 368], "nice": false, "zero": false}}
          }
        },
        {
          "data": {"name": "rsi"},
          "transform": [{"filter": "datum.i == 149"}],
          "mark": {"type": "text", "align": "left", "baseline": "middle", "fontSize": 12, "color": "#5b86e5"},
          "encoding": {
            "x": {"datum": 171.7, "type": "quantitative", "scale": {"domain": [-0.8, 169.3], "nice": false, "zero": false, "padding": 0}},
            "y": {"field": "rsi", "type": "quantitative", "title": null, "scale": {"domain": [30, 70], "range": [404, 368], "nice": false, "zero": false}},
            "text": {"field": "rsi", "format": ".2f"}
          }
        }
      ]
    },
    {
      "layer": [
        {
          "data": {"name": "macd"},
          "mark": {"type": "line", "strokeWidth": 1, "opacity": 0.85},
          "encoding": {
            "x": {"field": "i", "type": "quantitative", "title": null, "scale": {"domain": [-0.8, 169.3], "nice": false, "zero": false, "padding": 0}},
            "y": {
              "field": "macd", "type": "quantitative", "title": null,
              "scale": {"domain": [-0.0008, 0.0002], "range": [495, 467], "nice": false, "zero": false},
              "axis": {
                "orient": "right", "values": [0.0002, -0.0008],
                "labelExpr": "datum.value > 0 ? '0' : '-0'",
                "ticks": false, "domain": false, "grid": false,
                "labelPadding": 12, "labelFontSize": 12, "labelColor": "#888888"
              }
            },
            "color": {
              "datum": "MACD", "type": "nominal",
              "scale": {"domain": ["MACD", "MACD Signal"], "range": ["#5b86e5", "#4c9a1c"]},
              "legend": {
                "orient": "none", "legendX": 1, "legendY": 424, "direction": "horizontal", "title": null,
                "symbolType": "stroke", "symbolStrokeWidth": 5, "symbolSize": 169, "symbolOpacity": 1,
                "labelFontSize": 10, "labelColor": "#808690", "labelOffset": 4, "columnPadding": 2
              }
            }
          }
        },
        {
          "data": {"name": "signal"},
          "mark": {"type": "line", "strokeWidth": 1},
          "encoding": {
            "x": {"field": "i", "type": "quantitative", "title": null, "scale": {"domain": [-0.8, 169.3], "nice": false, "zero": false, "padding": 0}},
            "y": {"field": "signal", "type": "quantitative", "title": null, "scale": {"domain": [-0.0008, 0.0002], "range": [495, 467], "nice": false, "zero": false}},
            "color": {"datum": "MACD Signal", "type": "nominal"}
          }
        },
        {
          "data": {"name": "macd"},
          "transform": [{"filter": "datum.i == 149"}],
          "mark": {"type": "rule", "color": "#5b86e5", "strokeWidth": 1, "strokeDash": [1, 3]},
          "encoding": {
            "x": {"field": "i", "type": "quantitative", "title": null, "scale": {"domain": [-0.8, 169.3], "nice": false, "zero": false, "padding": 0}},
            "x2": {"datum": 169.3},
            "y": {"field": "macd", "type": "quantitative", "title": null, "scale": {"domain": [-0.0008, 0.0002], "range": [495, 467], "nice": false, "zero": false}}
          }
        },
        {
          "data": {"name": "macd"},
          "transform": [{"filter": "datum.i == 149"}],
          "mark": {"type": "text", "align": "left", "baseline": "middle", "fontSize": 12, "color": "#5b86e5"},
          "encoding": {
            "x": {"datum": 171.7, "type": "quantitative", "scale": {"domain": [-0.8, 169.3], "nice": false, "zero": false, "padding": 0}},
            "y": {"field": "macd", "type": "quantitative", "title": null, "scale": {"domain": [-0.0008, 0.0002], "range": [495, 467], "nice": false, "zero": false}},
            "text": {"value": "-0.00"}
          }
        }
      ]
    }
  ],
  "resolve": {
    "scale": {"y": "independent", "color": "independent"},
    "axis": {"y": "independent"},
    "legend": {"color": "independent"}
  }
}
